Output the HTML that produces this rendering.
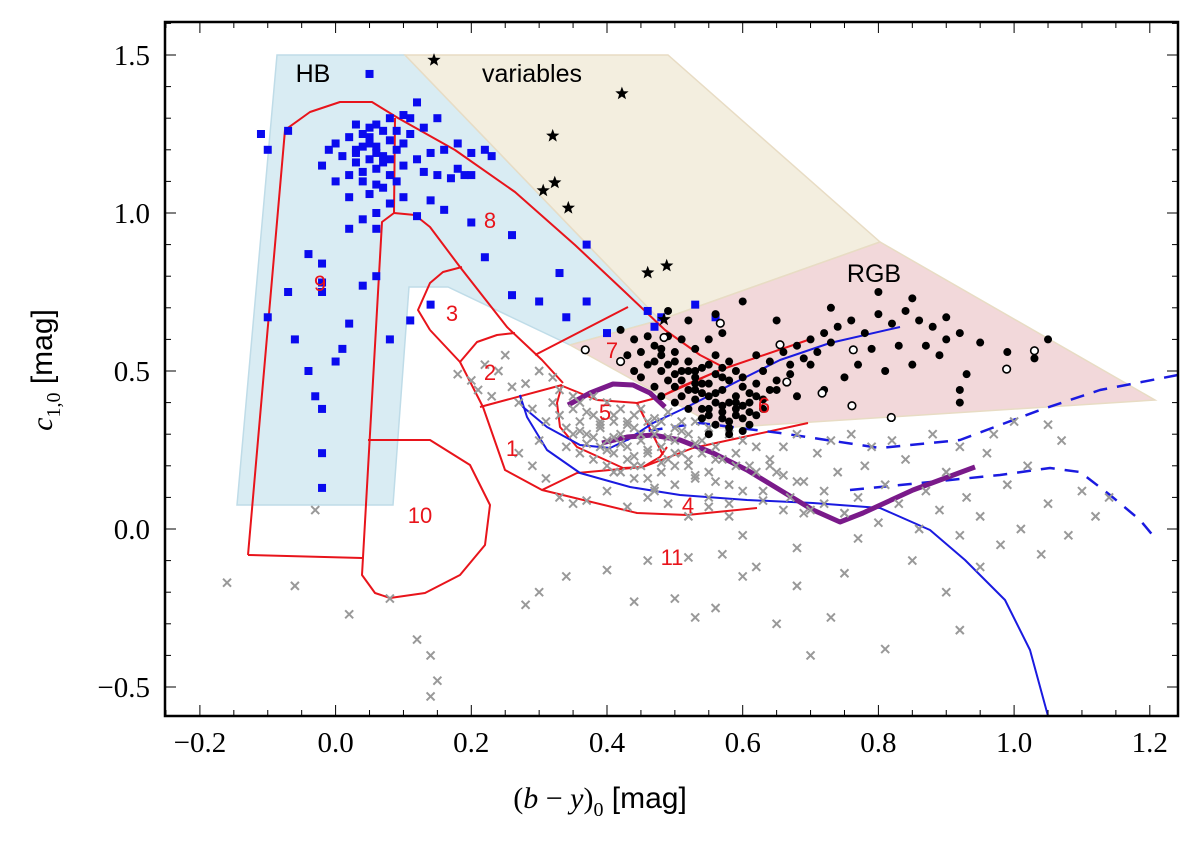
<!DOCTYPE html>
<html><head><meta charset="utf-8"><style>
html,body{margin:0;padding:0;background:#fff;}
svg{display:block;font-family:"Liberation Sans",sans-serif;}
</style></head><body>
<svg id="chart" width="1200" height="843" viewBox="0 0 1200 843" xmlns="http://www.w3.org/2000/svg">
<g id="regions"></g>
<g id="boxes"></g>
<g id="lines"></g>
<g id="pts"></g>
<g id="boxlabels"></g>
<g id="axes"></g>
<text x="313" y="82" font-size="25" text-anchor="middle">HB</text>
<text x="532" y="82" font-size="25" text-anchor="middle">variables</text>
<text x="874" y="282" font-size="25" text-anchor="middle">RGB</text>
<text transform="translate(52,370) rotate(-90)" font-size="30" text-anchor="middle"><tspan font-family="Liberation Serif" font-style="italic">c</tspan><tspan font-family="Liberation Serif" font-size="20" dy="8">1,0</tspan><tspan dy="-8"> [mag]</tspan></text>
<text x="600" y="808" font-size="30" text-anchor="middle"><tspan font-family="Liberation Serif">(</tspan><tspan font-family="Liberation Serif" font-style="italic">b</tspan><tspan font-family="Liberation Serif"> − </tspan><tspan font-family="Liberation Serif" font-style="italic">y</tspan><tspan font-family="Liberation Serif">)</tspan><tspan font-family="Liberation Serif" font-size="20" dy="8">0</tspan><tspan dy="-8"> [mag]</tspan></text>
</svg>
<script>
const xTicks=[-0.2,0.0,0.2,0.4,0.6,0.8,1.0,1.2];
const xTickLabels=["−0.2","0.0","0.2","0.4","0.6","0.8","1.0","1.2"];
const yTicks=[-0.5,0.0,0.5,1.0,1.5];
const yTickLabels=["−0.5","0.0","0.5","1.0","1.5"];
const hbX=[0.05,0.06,0.08,0.10,0.12,0.11,0.07,0.04,0.02,0.00,0.03,0.05,0.06,0.08,0.09,0.07,0.05,0.03,0.01,-0.01,0.04,0.06,0.08,0.10,0.12,0.14,0.16,0.13,0.15,0.17,0.19,0.18,0.20,0.22,0.23,0.09,0.07,0.05,0.02,0.00,-0.02,0.11,0.13,0.03,0.06,0.04,0.08,0.02,0.06,-0.07,-0.10,-0.11,0.15,0.18,0.10,0.16,0.12,0.20,0.14,0.20,0.26,0.22,0.37,0.33,0.26,0.37,0.46,0.48,0.53,0.47,0.56,0.30,0.40,0.34,-0.04,-0.02,-0.02,0.06,0.04,-0.02,-0.07,-0.10,0.02,0.01,0.00,-0.04,-0.06,0.08,-0.03,-0.02,-0.02,-0.02,0.11,0.14,0.04,0.06,0.07,0.05,0.03,0.08,0.10,0.09,0.04,0.02,0.06,0.05];
const hbY=[1.44,1.28,1.30,1.31,1.35,1.30,1.26,1.25,1.24,1.22,1.20,1.22,1.21,1.23,1.20,1.18,1.17,1.16,1.18,1.20,1.13,1.14,1.12,1.15,1.17,1.19,1.20,1.13,1.12,1.11,1.12,1.14,1.12,1.20,1.18,1.10,1.08,1.06,1.05,1.10,1.15,1.25,1.27,1.28,1.00,0.98,1.03,0.95,0.95,1.26,1.20,1.25,1.30,1.22,1.05,1.01,0.99,1.19,1.04,0.97,0.93,0.86,0.90,0.81,0.74,0.72,0.69,0.67,0.71,0.64,0.67,0.72,0.62,0.67,0.87,0.84,0.78,0.80,0.77,0.75,0.75,0.67,0.65,0.57,0.53,0.50,0.60,0.60,0.42,0.38,0.24,0.13,0.66,0.71,1.21,1.19,1.16,1.24,1.19,1.17,1.22,1.26,1.10,1.12,1.09,1.27];
const varX=[0.145,0.422,0.32,0.323,0.306,0.343,0.46,0.488,0.484];
const varY=[1.484,1.378,1.244,1.096,1.071,1.016,0.811,0.833,0.663];
const rgbX=[0.47,0.48,0.49,0.50,0.51,0.52,0.53,0.54,0.55,0.56,0.57,0.58,0.59,0.60,0.61,0.52,0.53,0.54,0.55,0.56,0.57,0.58,0.59,0.60,0.61,0.50,0.51,0.49,0.48,0.46,0.45,0.44,0.46,0.43,0.42,0.47,0.48,0.50,0.52,0.54,0.55,0.56,0.57,0.58,0.59,0.60,0.62,0.63,0.64,0.65,0.62,0.66,0.67,0.68,0.69,0.70,0.71,0.72,0.73,0.74,0.53,0.51,0.55,0.57,0.49,0.56,0.58,0.60,0.62,0.63,0.64,0.61,0.55,0.53,0.57,0.45,0.44,0.76,0.78,0.80,0.82,0.84,0.86,0.88,0.79,0.83,0.87,0.90,0.77,0.81,0.85,0.89,0.92,0.95,0.99,0.93,0.92,0.92,1.05,1.03,0.80,0.73,0.65,0.60,0.56,0.52,0.49,0.75,0.72,0.68,0.85,0.90,0.54,0.52,0.59,0.57,0.50,0.51,0.53,0.54,0.56,0.58,0.59,0.61,0.62,0.60,0.57,0.55,0.53,0.52,0.50,0.48,0.47,0.58,0.63,0.65,0.67,0.70,0.55];
const rgbY=[0.58,0.55,0.52,0.56,0.50,0.53,0.48,0.51,0.46,0.49,0.44,0.47,0.42,0.45,0.40,0.44,0.41,0.38,0.36,0.40,0.37,0.34,0.38,0.35,0.33,0.45,0.42,0.47,0.50,0.52,0.56,0.60,0.61,0.55,0.63,0.45,0.42,0.40,0.38,0.43,0.52,0.55,0.51,0.53,0.50,0.48,0.46,0.50,0.53,0.47,0.55,0.56,0.52,0.58,0.54,0.60,0.56,0.62,0.59,0.64,0.57,0.60,0.60,0.62,0.61,0.33,0.30,0.31,0.36,0.41,0.44,0.43,0.42,0.46,0.48,0.48,0.50,0.66,0.62,0.68,0.65,0.69,0.66,0.64,0.57,0.58,0.58,0.60,0.52,0.50,0.52,0.55,0.62,0.59,0.56,0.49,0.44,0.40,0.60,0.54,0.75,0.70,0.66,0.72,0.68,0.66,0.69,0.48,0.44,0.42,0.73,0.67,0.35,0.50,0.40,0.39,0.49,0.47,0.44,0.46,0.43,0.40,0.36,0.37,0.42,0.39,0.35,0.38,0.50,0.53,0.53,0.57,0.53,0.32,0.38,0.44,0.49,0.52,0.30];
const openX=[0.368,0.42,0.567,0.484,0.655,0.763,0.665,0.717,0.761,0.819,0.989,1.03];
const openY=[0.567,0.53,0.651,0.606,0.583,0.567,0.465,0.43,0.39,0.353,0.506,0.564];
const crossX=[0.32,0.33,0.34,0.35,0.36,0.37,0.38,0.39,0.40,0.41,0.42,0.43,0.44,0.45,0.46,0.47,0.48,0.49,0.50,0.51,0.52,0.36,0.38,0.40,0.42,0.44,0.46,0.48,0.50,0.52,0.54,0.53,0.55,0.56,0.58,0.57,0.59,0.60,0.62,0.61,0.34,0.36,0.38,0.40,0.42,0.44,0.46,0.48,0.39,0.41,0.43,0.45,0.47,0.50,0.53,0.55,0.58,0.31,0.30,0.29,0.33,0.35,0.22,0.20,0.24,0.26,0.23,0.25,0.27,0.28,0.30,0.32,0.18,0.21,0.63,0.65,0.67,0.69,0.70,0.72,0.74,0.75,0.77,0.78,0.80,0.81,0.83,0.84,0.86,0.87,0.89,0.90,0.92,0.93,0.95,0.96,0.98,0.99,1.01,1.02,1.04,1.05,1.07,1.08,1.10,1.12,1.14,1.00,1.05,0.88,0.92,0.97,0.64,0.66,0.68,0.71,0.73,0.76,0.79,0.82,0.58,0.55,0.52,0.49,0.46,0.43,0.40,0.37,0.60,0.57,0.52,0.46,0.40,0.34,0.30,0.28,0.14,0.14,0.15,0.12,0.08,0.02,-0.06,-0.16,-0.03,0.44,0.50,0.53,0.56,0.65,0.73,0.81,0.92,0.68,0.75,0.85,0.90,0.95,0.62,0.68,0.77,0.70,0.60,0.27,0.29,0.31,0.33,0.35,0.35,0.37,0.39,0.41,0.43,0.45,0.47,0.49,0.51,0.53,0.37,0.39,0.41,0.43,0.45,0.47,0.49,0.51,0.36,0.38,0.40,0.42,0.44,0.46,0.48,0.50,0.52,0.54,0.56,0.41,0.44,0.47,0.50,0.53,0.56,0.59,0.62,0.64,0.66,0.68,0.55,0.58,0.60,0.63,0.66,0.69,0.72,0.75];
const crossY=[0.40,0.36,0.32,0.38,0.34,0.30,0.36,0.32,0.28,0.34,0.30,0.26,0.32,0.28,0.24,0.30,0.26,0.22,0.28,0.24,0.20,0.40,0.42,0.40,0.38,0.36,0.34,0.34,0.32,0.30,0.28,0.34,0.32,0.26,0.30,0.22,0.24,0.28,0.26,0.20,0.26,0.24,0.22,0.20,0.18,0.20,0.16,0.18,0.26,0.24,0.22,0.20,0.12,0.14,0.16,0.18,0.14,0.34,0.28,0.38,0.44,0.42,0.52,0.47,0.50,0.45,0.42,0.55,0.40,0.46,0.50,0.48,0.49,0.44,0.12,0.18,0.10,0.15,0.06,0.12,0.18,0.05,0.10,0.20,0.02,0.14,0.08,0.22,0.00,0.12,0.06,0.18,-0.02,0.10,0.04,0.24,-0.05,0.14,0.00,0.20,-0.08,0.08,0.28,-0.02,0.12,0.04,0.10,0.34,0.33,0.30,0.26,0.30,0.22,0.26,0.30,0.24,0.28,0.30,0.26,0.28,0.04,0.07,0.04,0.08,0.10,0.07,0.12,0.09,-0.02,-0.08,-0.09,-0.10,-0.13,-0.15,-0.20,-0.24,-0.40,-0.53,-0.48,-0.35,-0.22,-0.27,-0.18,-0.17,0.06,-0.23,-0.22,-0.28,-0.25,-0.30,-0.28,-0.38,-0.32,-0.18,-0.14,-0.10,-0.20,-0.12,-0.12,-0.06,-0.03,-0.40,-0.15,0.24,0.20,0.16,0.10,0.08,0.30,0.27,0.33,0.29,0.34,0.30,0.32,0.29,0.31,0.27,0.37,0.34,0.36,0.33,0.38,0.35,0.37,0.34,0.31,0.29,0.25,0.27,0.23,0.25,0.21,0.24,0.22,0.24,0.22,0.18,0.16,0.13,0.20,0.17,0.15,0.20,0.18,0.20,0.17,0.15,0.10,0.08,0.12,0.09,0.06,0.05,0.08,0.05];

const NS='http://www.w3.org/2000/svg';
const L=165,R=1178,T=22,B=716;
function X(v){return 335.6+678.5*v;}
function Y(v){return 529-316*v;}
function PX(p){return (p-335.6)/678.5;}
function PY(p){return (529-p)/316;}
function mk(tag,attrs,parent){const e=document.createElementNS(NS,tag);for(const k in attrs)e.setAttribute(k,attrs[k]);parent.appendChild(e);return e;}
function pathFromPx(arr){return arr.map((p,i)=>(i?'L':'M')+X(PX(p[0])).toFixed(1)+','+Y(PY(p[1])).toFixed(1)).join(' ');}

const regions=document.getElementById('regions');
const shapes=[
 ['hb-region','#d9ecf3',[[277,55],[405,55],[660,320],[570,345],[448,287],[409,287],[393,505],[237,505]]],
 ['variables-region','#f3eedf',[[405,55],[668,55],[880,242],[660,320]]],
 ['rgb-region','#f2d8da',[[570,345],[660,320],[880,242],[1155,400],[720,428]]]
];
shapes.forEach(s=>{
 const e=mk('path',{d:pathFromPx(s[2])+'Z',fill:s[1],stroke:s[1]==='#d9ecf3'?'#bfdce8':'#e8dcc4','stroke-width':1.5},regions);
 
 
});

const boxes=document.getElementById('boxes');
const redLines=[
 [[248,555],[285,130],[310,112],[340,102],[372,102],[398,118],[455,150],[515,192],[575,245],[625,292],[665,330],[700,355],[725,368]],
 [[248,555],[362,558]],
 [[395,118],[394,213],[382,222],[362,575],[375,593],[390,598],[425,593],[460,575],[485,545],[490,505],[470,465],[430,440],[368,440]],
 [[394,213],[415,215],[430,227],[460,267],[507,327],[542,360],[563,383]],
 [[430,330],[418,310],[430,283],[443,272],[462,267]],
 [[430,330],[460,362],[477,342],[497,335],[515,333]],
 [[460,362],[483,407],[505,470],[542,490],[577,473],[643,467],[693,448],[808,423]],
 [[542,490],[637,513],[687,515],[757,508]],
 [[480,407],[562,385]],
 [[562,385],[557,403],[560,427],[577,447],[623,468],[643,467],[660,457],[667,447]],
 [[560,385],[597,400],[637,403],[660,397],[680,387],[725,368]],
 [[637,403],[663,455]],
 [[660,397],[720,370],[808,340]],
 [[535,355],[628,307]]
];
redLines.forEach((l,i)=>{
 const e=mk('path',{d:pathFromPx(l),fill:'none',stroke:'#e8141b','stroke-width':2,'stroke-linejoin':'round'},boxes);
 
 
});
const boxLabelLayer=document.getElementById('boxlabels');
const boxLabels=[['9',320,291],['8',490,228],['3',452,321],['2',490,380],['1',512,456],['5',605,420],['7',612,358],['6',764,413],['4',688,513],['10',420,523],['11',672,565]];
boxLabels.forEach(b=>{
 const t=mk('text',{x:b[1],y:b[2],'font-size':22,fill:'#e8141b','text-anchor':'middle'},boxLabelLayer);
 t.textContent=b[0];
 
 
});

const lines=document.getElementById('lines');
const modelLines=[
 ['isochrone-upper','#1a1ae0',2,'',[[520,395],[523,407],[547,427],[580,445],[610,448],[627,440],[653,423],[687,407],[740,380],[780,360],[830,343],[900,327]]],
 ['isochrone-lower','#1a1ae0',2,'',[[520,395],[527,417],[547,450],[580,473],[630,487],[680,495],[747,500],[813,503],[880,508],[930,530],[965,560],[1005,600],[1030,650],[1048,716]]],
 ['dashed-upper','#1a1ae0',2.5,'14,10',[[627,440],[640,432],[700,423],[780,433],[880,448],[960,440],[1040,410],[1100,390],[1178,375]]],
 ['dashed-lower','#1a1ae0',2.5,'14,10',[[850,490],[1000,475],[1050,468],[1080,472],[1110,495],[1140,520],[1155,538]]],
 ['track-upper','#7a1a8a',5,'',[[568,405],[590,393],[613,384],[633,385],[650,393],[665,407]]],
 ['track-lower','#7a1a8a',5,'',[[602,443],[627,437],[653,435],[680,440],[713,453],[747,470],[780,490],[813,510],[840,522],[863,513],[913,490],[975,467]]]
];
modelLines.forEach(m=>{
 const e=mk('path',{d:pathFromPx(m[4]),fill:'none',stroke:m[1],'stroke-width':m[2],'stroke-dasharray':m[3]||'none','stroke-linejoin':'round'},lines);
 
 
});

const pts=document.getElementById('pts');
crossX.forEach((x,i)=>{
 const cx=X(x),cy=Y(crossY[i]);
 const e=mk('path',{d:`M${cx-4},${cy-4}L${cx+4},${cy+4}M${cx-4},${cy+4}L${cx+4},${cy-4}`,stroke:'#999','stroke-width':2},pts);
 
 
});
hbX.forEach((x,i)=>{
 const e=mk('rect',{x:X(x)-4,y:Y(hbY[i])-4,width:8,height:8,fill:'#0a0aee'},pts);
 
 
});
rgbX.forEach((x,i)=>{
 const e=mk('circle',{cx:X(x),cy:Y(rgbY[i]),r:4,fill:'#000'},pts);
 
 
});
openX.forEach((x,i)=>{
 const e=mk('circle',{cx:X(x),cy:Y(openY[i]),r:3.8,fill:'#fff',stroke:'#000','stroke-width':1.6},pts);
 
 
});
function starPath(cx,cy,r){let d='';for(let k=0;k<10;k++){const a=-Math.PI/2+k*Math.PI/5;const rr=k%2?r*0.42:r;d+=(k?'L':'M')+(cx+rr*Math.cos(a)).toFixed(1)+','+(cy+rr*Math.sin(a)).toFixed(1);}return d+'Z';}
varX.forEach((x,i)=>{
 const e=mk('path',{d:starPath(X(x),Y(varY[i]),7),fill:'#000'},pts);
 
 
});

const axes=document.getElementById('axes');
for(let k=-5;k<=24;k++){
 const v=k*0.05,px=X(v);if(px<L||px>R)continue;
 const major=k%4===0,len=major?11:6;
 mk('line',{x1:px,y1:B,x2:px,y2:B-len,stroke:'#000','stroke-width':1},axes);
 mk('line',{x1:px,y1:T,x2:px,y2:T+len,stroke:'#000','stroke-width':1},axes);
}
for(let k=-6;k<=16;k++){
 const v=k*0.1,py=Y(v);if(py<T||py>B)continue;
 const major=k%5===0,len=major?11:6;
 mk('line',{x1:L,y1:py,x2:L+len,y2:py,stroke:'#000','stroke-width':1},axes);
 mk('line',{x1:R,y1:py,x2:R-len,y2:py,stroke:'#000','stroke-width':1},axes);
}
xTicks.forEach((v,i)=>{
 const t=mk('text',{x:X(v),y:752,'font-size':29,'font-family':'Liberation Serif','text-anchor':'middle'},axes);
 t.textContent=xTickLabels[i];
 
 
});
yTicks.forEach((v,i)=>{
 const t=mk('text',{x:150,y:Y(v)+10,'font-size':29,'font-family':'Liberation Serif','text-anchor':'end'},axes);
 t.textContent=yTickLabels[i];
 
 
});
const fr=mk('rect',{x:L,y:T,width:R-L,height:B-T,fill:'none',stroke:'#000','stroke-width':2.5},axes);


</script>
</body></html>
